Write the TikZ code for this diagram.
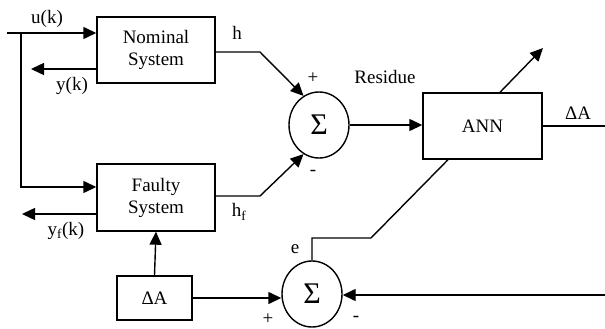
\documentclass[tikz,border=0pt]{standalone}
\usepackage{fontspec}
\setmainfont{Liberation Serif}
\usetikzlibrary{arrows.meta,shapes.geometric}
\begin{document}
\begin{tikzpicture}[x=1pt,y=-1pt,
  line width=1.4pt,
  every node/.style={font=\fontsize{19}{22}\selectfont},
  block/.style={draw,rectangle,inner sep=0pt,align=center},
  summer/.style={draw,ellipse,minimum width=60pt,minimum height=66pt,inner sep=0pt,
    font=\fontsize{30}{30}\selectfont},
  arr/.style={-{Triangle[length=13pt,width=12pt]}},
  lbl/.style={inner sep=0pt}]
\useasboundingbox (0,0) rectangle (605,329);

% blocks
\node[block,minimum width=118pt,minimum height=66pt] (nom) at (156,50) {Nominal\\System};
\node[block,minimum width=118pt,minimum height=67pt] (flt) at (156,197.5) {Faulty\\System};
\node[block,minimum width=75pt,minimum height=44pt] (dA) at (154.5,298) {ΔA};
\node[block,minimum width=119pt,minimum height=66pt] (ann) at (482.5,126) {ANN};
\node[summer] (s1) at (319,125) {Σ};
\node[summer] (s2) at (312,294) {Σ};

% free ends
\coordinate (uin) at (7,33);
\coordinate (split) at (21,33);
\coordinate (yout) at (31,69);
\coordinate (yfout) at (22,214);
\coordinate (hk) at (260,52);
\coordinate (hfk) at (260,196);
\coordinate (annout) at (543,48);
\coordinate (dAout) at (605,126);
\coordinate (ek) at (371,238);
\coordinate (rin) at (605,295);

% input u(k) to both systems
\draw[arr] (uin) -- (uin -| nom.west);
\draw[arr] (split) |- (flt.west |- 0,187);
% system outputs
\draw[arr] (nom.west |- yout) -- (yout);
\draw[arr] (flt.west |- yfout) -- (yfout);
% residue generation
\draw[arr] (nom.east |- hk) -- (hk) -- (s1.118);
\draw[arr] (flt.east |- hfk) -- (hfk) -- (s1.242);
\draw[arr] (s1.east) -- (ann.west |- s1.east);
% ANN
\draw[arr] ([xshift=17.5pt]ann.north) -- (annout);
\draw (ann.east) -- (dAout);
\draw ([xshift=-34.5pt]ann.south) -- (ek) -- (s2.north |- ek) -- (s2.north);
% fault injection
\draw[arr] (dA.north) -- (flt.south);
\draw[arr] (dA.east) -- (dA.east -| s2.west);
\draw[arr] (rin) -- (s2.east |- rin);

% labels
\node[lbl] at (47,19) {u(k)};
\node[lbl] at (72,86) {y(k)};
\node[lbl] at (237,33) {h};
\node[lbl] at (66,231) {y\textsubscript{f}(k)};
\node[lbl] at (239,212) {h\textsubscript{f}};
\node[lbl] at (313,78) {+};
\node[lbl] at (313,173) {-};
\node[lbl] at (385,77) {Residue};
\node[lbl] at (578,113) {ΔA};
\node[lbl] at (295,249) {e};
\node[lbl] at (268,319) {+};
\node[lbl] at (356,319) {-};
\end{tikzpicture}
\end{document}
